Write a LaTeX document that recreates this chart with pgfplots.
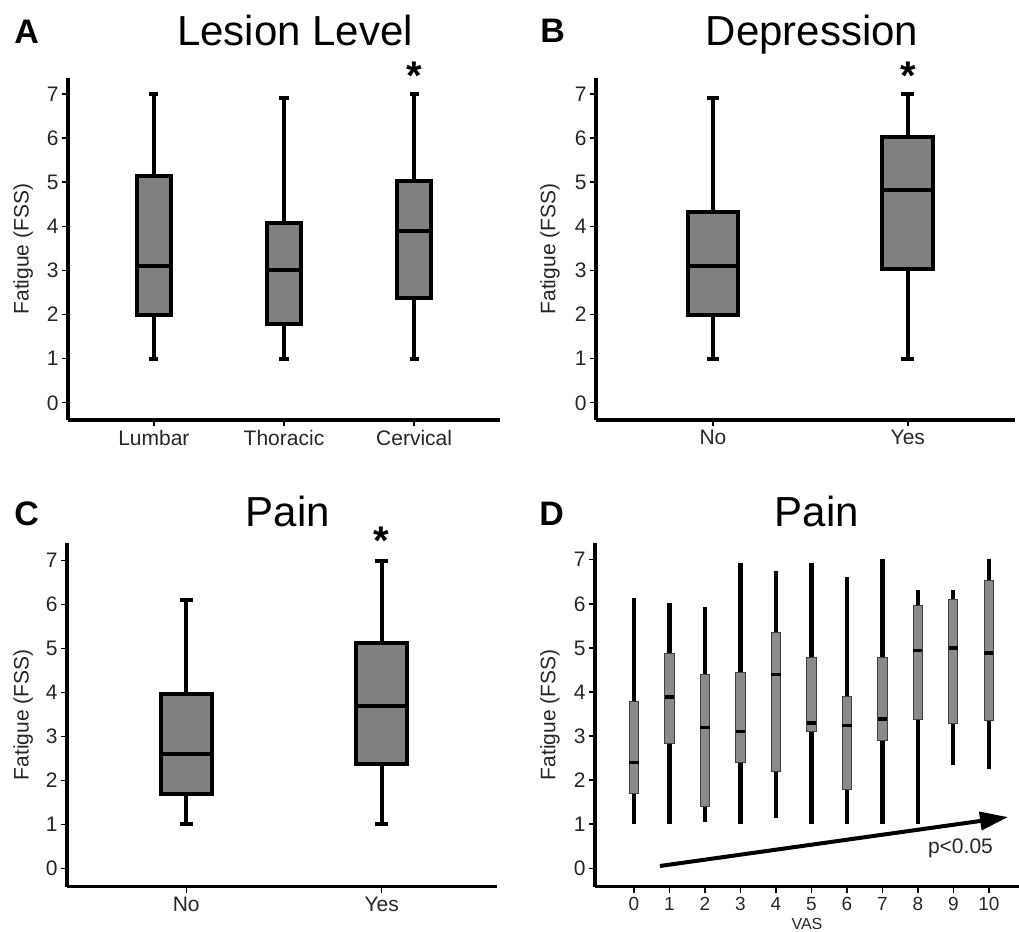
\documentclass[border=0pt]{standalone}
\usepackage{fontspec}
\setmainfont{Liberation Sans}
\usepackage{pgfplots}
\pgfplotsset{compat=1.18}
\usepgfplotslibrary{statistics}
\usetikzlibrary{arrows.meta}
\definecolor{boxgray}{RGB}{128,128,128}
\definecolor{boxgrayD}{RGB}{138,138,138}
\pgfplotsset{
  panel/.style={
    scale only axis,
    axis lines=left,
    axis line style={line width=1.6pt, -},
    every outer x axis line/.append style={-},
    every outer y axis line/.append style={-},
    tick align=outside,
    major tick length=3pt,
    tick style={line width=0.7pt, black},
    ytick={0,1,2,3,4,5,6,7},
    /pgf/number format/assume math mode=true,
    tick label style={font=\fontsize{10.5}{12}\selectfont, text=black!85},
    yticklabel style={inner sep=1.5pt},
    xticklabel style={inner sep=2pt},
    ylabel={Fatigue (FSS)},
    ylabel style={font=\fontsize{10.5}{12}\selectfont, text=black!85, anchor=center},
    clip=false,
    boxplot/draw direction=y,
  },
  bp/.style={draw=black, fill=boxgray, line width=2pt, solid},
  bpD/.style={draw=black, solid, line width=2pt,
    boxplot/every box/.style={draw=black!75, line width=0.5pt, fill=boxgrayD},
    boxplot/every whisker/.style={line width=2.1pt, black},
    boxplot/every median/.style={line width=1.8pt, black}},
}
\begin{document}
\begin{tikzpicture}
\path[use as bounding box] (0,0) rectangle (509.5pt,-466pt);

% Panel A
\begin{axis}[panel, at={(34pt,-210pt)}, anchor=south west, width=216pt, height=171pt,
  xmin=-0.66, xmax=2.66, ymin=-0.39, ymax=7.36,
  xtick={0,1,2}, xticklabels={Lumbar,Thoracic,Cervical},
  ylabel style={at={(axis description cs:-0.104,0.5)}}]
\addplot[bp, boxplot prepared={draw position=0, lower whisker=1, lower quartile=2.0, median=3.1, upper quartile=5.13, upper whisker=7, box extend=0.26, whisker extend=0.07}] coordinates {};
\addplot[bp, boxplot prepared={draw position=1, lower whisker=1, lower quartile=1.78, median=3.0, upper quartile=4.07, upper whisker=6.9, box extend=0.26, whisker extend=0.07}] coordinates {};
\addplot[bp, boxplot prepared={draw position=2, lower whisker=1, lower quartile=2.38, median=3.9, upper quartile=5.02, upper whisker=7, box extend=0.26, whisker extend=0.07}] coordinates {};
\node[anchor=north, inner sep=0pt, font=\fontsize{20}{20}\selectfont\bfseries] at (axis cs:2,7.73) {*};
\end{axis}

% Panel B
\begin{axis}[panel, at={(298pt,-210pt)}, anchor=south west, width=209.5pt, height=171pt,
  xmin=-0.6, xmax=1.55, ymin=-0.39, ymax=7.36,
  xtick={0,1}, xticklabels={No,Yes},
  ylabel style={at={(axis description cs:-0.11,0.5)}}]
\addplot[bp, boxplot prepared={draw position=0, lower whisker=1, lower quartile=1.98, median=3.1, upper quartile=4.33, upper whisker=6.9, box extend=0.26, whisker extend=0.065}] coordinates {};
\addplot[bp, boxplot prepared={draw position=1, lower whisker=1, lower quartile=3.03, median=4.82, upper quartile=6.02, upper whisker=7, box extend=0.26, whisker extend=0.065}] coordinates {};
\node[anchor=north, inner sep=0pt, font=\fontsize{20}{20}\selectfont\bfseries] at (axis cs:1,7.73) {*};
\end{axis}

% Panel C
\begin{axis}[panel, at={(33.5pt,-443.35pt)}, anchor=south west, width=215pt, height=171.85pt,
  xmin=-0.61, xmax=1.59, ymin=-0.42, ymax=7.40,
  xtick={0,1}, xticklabels={No,Yes},
  ylabel style={at={(axis description cs:-0.102,0.5)}}]
\addplot[bp, boxplot prepared={draw position=0, lower whisker=1, lower quartile=1.68, median=2.6, upper quartile=3.97, upper whisker=6.1, box extend=0.26, whisker extend=0.065}] coordinates {};
\addplot[bp, boxplot prepared={draw position=1, lower whisker=1, lower quartile=2.38, median=3.7, upper quartile=5.13, upper whisker=7, box extend=0.26, whisker extend=0.065}] coordinates {};
\node[anchor=north, inner sep=0pt, font=\fontsize{20}{20}\selectfont\bfseries] at (axis cs:1,7.77) {*};
\end{axis}

% Panel D
\begin{axis}[panel, at={(297.5pt,-443.35pt)}, anchor=south west, width=212pt, height=171.85pt,
  xmin=-1.1, xmax=10.85, ymin=-0.42, ymax=7.38,
  xtick={0,1,2,3,4,5,6,7,8,9,10},
  xticklabel style={font=\fontsize{9.5}{10}\selectfont},
  xlabel={VAS}, xlabel style={font=\fontsize{8}{9}\selectfont, text=black!85, inner sep=0pt, yshift=-1.5pt},
  ylabel style={at={(axis description cs:-0.106,0.5)}}]
\addplot[bpD, boxplot prepared={draw position=0, lower whisker=1, lower quartile=1.69, median=2.40, upper quartile=3.78, upper whisker=6.13, box extend=0.26, whisker extend=0}] coordinates {};
\addplot[bpD, boxplot prepared={draw position=1, lower whisker=1, lower quartile=2.84, median=3.88, upper quartile=4.88, upper whisker=6.03, box extend=0.26, whisker extend=0}] coordinates {};
\addplot[bpD, boxplot prepared={draw position=2, lower whisker=1.05, lower quartile=1.40, median=3.19, upper quartile=4.39, upper whisker=5.93, box extend=0.26, whisker extend=0}] coordinates {};
\addplot[bpD, boxplot prepared={draw position=3, lower whisker=1, lower quartile=2.40, median=3.10, upper quartile=4.44, upper whisker=6.93, box extend=0.26, whisker extend=0}] coordinates {};
\addplot[bpD, boxplot prepared={draw position=4, lower whisker=1.15, lower quartile=2.20, median=4.40, upper quartile=5.34, upper whisker=6.74, box extend=0.26, whisker extend=0}] coordinates {};
\addplot[bpD, boxplot prepared={draw position=5, lower whisker=1, lower quartile=3.10, median=3.29, upper quartile=4.79, upper whisker=6.93, box extend=0.26, whisker extend=0}] coordinates {};
\addplot[bpD, boxplot prepared={draw position=6, lower whisker=1, lower quartile=1.79, median=3.24, upper quartile=3.90, upper whisker=6.62, box extend=0.26, whisker extend=0}] coordinates {};
\addplot[bpD, boxplot prepared={draw position=7, lower whisker=1, lower quartile=2.90, median=3.39, upper quartile=4.79, upper whisker=7.02, box extend=0.26, whisker extend=0}] coordinates {};
\addplot[bpD, boxplot prepared={draw position=8, lower whisker=1, lower quartile=3.38, median=4.94, upper quartile=5.97, upper whisker=6.32, box extend=0.26, whisker extend=0}] coordinates {};
\addplot[bpD, boxplot prepared={draw position=9, lower whisker=2.35, lower quartile=3.29, median=5.0, upper quartile=6.09, upper whisker=6.32, box extend=0.26, whisker extend=0}] coordinates {};
\addplot[bpD, boxplot prepared={draw position=10, lower whisker=2.25, lower quartile=3.35, median=4.88, upper quartile=6.53, upper whisker=7.02, box extend=0.26, whisker extend=0}] coordinates {};
\addplot[black, line width=2pt, -{Triangle[length=14pt,width=9pt]}] coordinates {(0.73,0.05) (10.54,1.16)};
\node[font=\fontsize{10.5}{12}\selectfont, text=black!85] at (axis cs:9.2,0.46) {p<0.05};
\end{axis}

% Labels and titles
\node[anchor=base west, inner sep=0pt, font=\fontsize{17}{17}\selectfont\bfseries] at (7pt,-21.5pt) {A};
\node[anchor=base west, inner sep=0pt, font=\fontsize{17}{17}\selectfont\bfseries] at (270pt,-21pt) {B};
\node[anchor=base west, inner sep=0pt, font=\fontsize{17}{17}\selectfont\bfseries] at (7pt,-262.5pt) {C};
\node[anchor=base west, inner sep=0pt, font=\fontsize{17}{17}\selectfont\bfseries] at (269.5pt,-262.5pt) {D};
\node[anchor=base, inner sep=0pt, font=\fontsize{21}{21}\selectfont] at (147.5pt,-22.5pt) {Lesion Level};
\node[anchor=base, inner sep=0pt, font=\fontsize{21}{21}\selectfont] at (406pt,-22.5pt) {Depression};
\node[anchor=base, inner sep=0pt, font=\fontsize{21}{21}\selectfont] at (144pt,-263.4pt) {Pain};
\node[anchor=base, inner sep=0pt, font=\fontsize{21}{21}\selectfont] at (408.5pt,-263.4pt) {Pain};
\end{tikzpicture}
\end{document}
